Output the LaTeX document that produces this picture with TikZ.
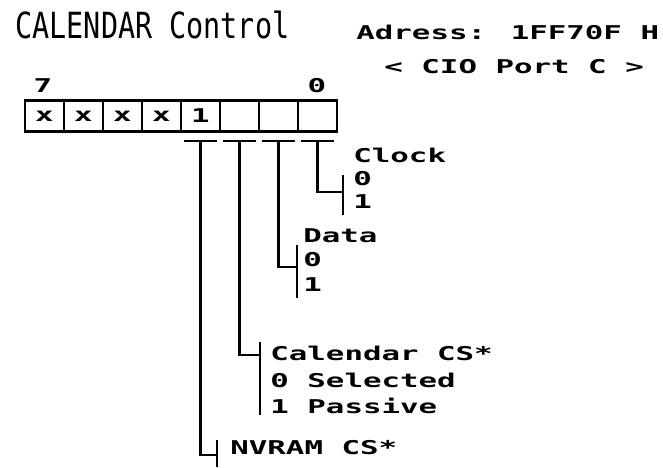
\documentclass[tikz,border=0pt]{standalone}
\usepackage{fontspec}
\newfontfamily\pixfont[FakeStretch=1.62]{DejaVu Sans Mono Bold}
\newfontfamily\titlefont[FakeStretch=0.79]{DejaVu Sans Mono}
\begin{document}
\begin{tikzpicture}[x=1pt,y=-1pt,
  line width=2.8pt,
  pix/.style={inner sep=0pt,anchor=base west,font=\pixfont\fontsize{19}{21}\selectfont},
  pixc/.style={inner sep=0pt,anchor=base,font=\pixfont\fontsize{19}{21}\selectfont},
  cell/.style={draw,line width=2.8pt,minimum width=39pt,minimum height=31pt,inner sep=0pt,font=\pixfont\fontsize{19}{21}\selectfont},
  wire/.style={line width=2.8pt}]
\useasboundingbox (0,0) rectangle (663,467);
% title
\node[inner sep=0pt,anchor=base west,font=\titlefont\fontsize{36}{40}\selectfont] (title) at (14,38) {CALENDAR Control};
\node[pix] (adr) at (355,39) {Adress: 1FF70F H};
\node[pix] (cio) at (383,73) {< CIO Port C >};
% bit numbers
\node[pixc] (b7) at (43,92) {7};
\node[pixc] (b0) at (317,92) {0};
% register
\foreach \i/\t in {0/x,1/x,2/x,3/x,4/1,5/,6/,7/} {
  \node[cell] (c\i) at (44.5+39*\i,116) {\t};
}
% bars under cells 4..7
\foreach \i in {4,5,6,7} {
  \coordinate (t\i) at ([yshift=-8pt]c\i.south);
  \draw[wire] ([xshift=4pt,yshift=-8pt]c\i.south west) -- ([xshift=-4pt,yshift=-8pt]c\i.south east);
}
% Clock
\coordinate (kclk) at (343,192);
\draw[wire] (t7) |- (kclk);
\draw[wire] (343,175) -- (343,215);
\node[pix] (clk) at (352,162) {Clock};
\node[pix] (clk0) at (352,185) {0};
\node[pix] (clk1) at (352,208) {1};
% Data
\coordinate (kdat) at (297,267);
\draw[wire] (t6) |- (kdat);
\draw[wire] (297,245) -- (297,298);
\node[pix] (dat) at (302,242) {Data};
\node[pix] (dat0) at (302,266) {0};
\node[pix] (dat1) at (302,291) {1};
% Calendar CS*
\coordinate (kcal) at (260,355);
\draw[wire] (t5) |- (kcal);
\draw[wire] (260,342) -- (260,415);
\node[pix] (cal) at (269,360) {Calendar CS*};
\node[pix] (cal0) at (269,387) {0 Selected};
\node[pix] (cal1) at (269,413) {1 Passive};
% NVRAM CS*
\coordinate (knv) at (217,455);
\draw[wire] (t4) |- (knv);
\draw[wire] (217,440) -- (217,467);
\node[pix] (nv) at (229,454) {NVRAM CS*};
\end{tikzpicture}
\end{document}
